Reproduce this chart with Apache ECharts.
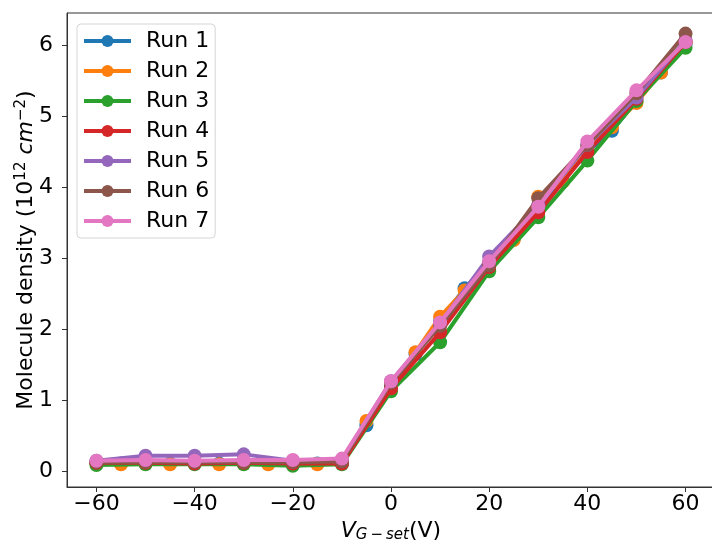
<!DOCTYPE html>
<html><head><meta charset="utf-8">
<script src="https://cdn.jsdelivr.net/npm/echarts@6/dist/echarts.min.js"></script>
<style>html,body{margin:0;padding:0;background:#fff}#c{width:712px;height:540px}</style>
</head><body><div id="c"></div>
<script>
// x positions (V_G-set, V)
const xFine = [-60,-55,-50,-45,-40,-35,-30,-25,-20,-15,-10,-5,0,5,10,15,20,25,30,35,40,45,50,55,60];
const xCoarse = [-60,-50,-40,-30,-20,-10,0,10,20,30,40,50,60];
// Molecule density (10^12 cm^-2)
const run1 = [0.12,0.11,0.11,0.11,0.11,0.11,0.11,0.11,0.10,0.11,0.12,0.65,1.20,1.65,2.12,2.58,2.95,3.28,3.68,4.10,4.50,4.80,5.22,5.62,6.02];
const run2 = [0.11,0.10,0.11,0.10,0.11,0.10,0.11,0.10,0.10,0.10,0.11,0.71,1.25,1.68,2.18,2.55,2.92,3.26,3.87,4.08,4.55,4.85,5.19,5.62,6.05];
const run3 = [0.09,0.10,0.10,0.10,0.08,0.10,1.13,1.82,2.82,3.58,4.38,5.22,5.97];
const run4 = [0.12,0.12,0.11,0.12,0.11,0.11,1.17,1.96,2.88,3.65,4.50,5.25,6.05];
const run5 = [0.15,0.22,0.22,0.24,0.15,0.16,1.27,2.08,3.03,3.75,4.60,5.27,6.08];
const run6 = [0.13,0.13,0.13,0.13,0.13,0.14,1.25,2.05,2.90,3.85,4.60,5.33,6.17];
const run7 = [0.15,0.16,0.15,0.16,0.16,0.18,1.27,2.10,2.96,3.73,4.65,5.37,6.05];
const runNames = ['Run 1','Run 2','Run 3','Run 4','Run 5','Run 6','Run 7'];
const xTicks = [-60,-40,-20,0,20,40,60];
const yTicks = [0,1,2,3,4,5,6];

const colors = ['#1f77b4','#ff7f0e','#2ca02c','#d62728','#9467bd','#8c564b','#e377c2'];
const runs = [[xFine,run1],[xFine,run2],[xCoarse,run3],[xCoarse,run4],[xCoarse,run5],[xCoarse,run6],[xCoarse,run7]];
const FONT = 'DejaVu Sans';

const series = runs.map((r, i) => ({
  name: runNames[i],
  type: 'line',
  data: r[0].map((x, j) => [x, r[1][j]]),
  symbol: 'circle',
  symbolSize: 14,
  showAllSymbol: true,
  lineStyle: { width: 4, color: colors[i] },
  itemStyle: { color: colors[i] },
  emphasis: { disabled: true },
  z: 2 + i
}));

const chart = echarts.init(document.getElementById('c'), null, { renderer: 'canvas' });
chart.setOption({
  animation: false,
  color: colors,
  grid: { left: 67, right: -3, top: 13, bottom: 53, show: true, borderColor: '#333', borderWidth: 1,
    containLabel: false, outerBoundsMode: 'none' },
  legend: {
    left: 77, top: 24, orient: 'vertical',
    itemWidth: 47, itemHeight: 15, itemGap: 4,
    padding: [4, 6, 4, 5],
    borderColor: '#d5d5d5', borderWidth: 1, borderRadius: 4,
    backgroundColor: 'rgba(255,255,255,0.8)',
    lineStyle: { width: 4 },
    textStyle: { fontFamily: FONT, fontSize: 22, color: '#000', lineHeight: 26, padding: [0, 0, 0, 10] },
    data: runNames
  },
  xAxis: {
    type: 'value', min: -66, max: 66,
    axisLine: { show: true, onZero: false, lineStyle: { color: '#333', width: 1 } },
    axisTick: { show: true, length: 5, customValues: xTicks, lineStyle: { color: '#333' } },
    axisLabel: { customValues: xTicks, margin: 6, fontFamily: FONT, fontSize: 22, color: '#000',
      formatter: v => (v < 0 ? '\u2212' + Math.abs(v) : String(v)) },
    splitLine: { show: false },
    name: '{it|V}{sub|G\u2009\u2212\u2009set}(V)',
    nameLocation: 'middle', nameGap: 33, nameMoveOverlap: false,
    nameTextStyle: { fontFamily: FONT, fontSize: 22, color: '#000',
      rich: {
        it: { fontFamily: FONT, fontStyle: 'italic', fontSize: 22, color: '#000' },
        sub: { fontFamily: FONT, fontStyle: 'italic', fontSize: 15, color: '#000', padding: [8, 0, 0, 0] }
      } }
  },
  yAxis: {
    type: 'value', min: -0.22, max: 6.46,
    axisLine: { show: true, onZero: false, lineStyle: { color: '#333', width: 1 } },
    axisTick: { show: true, length: 5, customValues: yTicks, lineStyle: { color: '#333' } },
    axisLabel: { customValues: yTicks, margin: 14, fontFamily: FONT, fontSize: 22, color: '#000' },
    splitLine: { show: false },
    name: 'Molecule density (10{sup|12} {it|cm}{sup|\u22122})',
    nameLocation: 'middle', nameGap: 28, nameRotate: 90, nameMoveOverlap: false,
    nameTextStyle: { fontFamily: FONT, fontSize: 22, color: '#000',
      rich: {
        it: { fontFamily: FONT, fontStyle: 'italic', fontSize: 22, color: '#000' },
        sup: { fontFamily: FONT, fontSize: 15, color: '#000', padding: [0, 0, 10, 0] }
      } }
  },
  series: series
});
</script></body></html>
